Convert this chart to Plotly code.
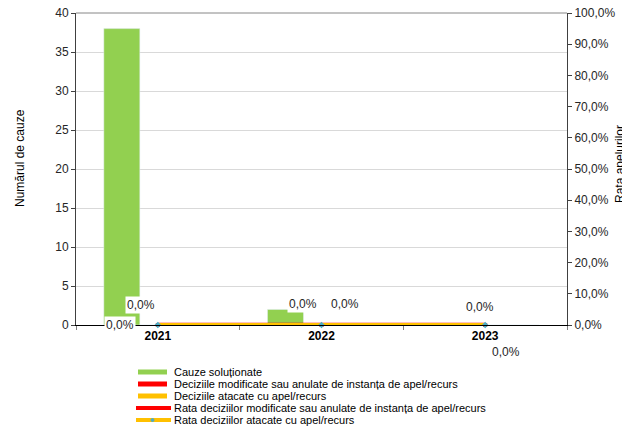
import plotly.graph_objects as go

# ---- data ----
years = ["2021", "2022", "2023"]
cauze_solutionate = [38, 2, 0]
decizii_modificate = [0, 0, 0]
decizii_atacate = [0, 0, 0]
rata_modificate = [0.0, 0.0, 0.0]
rata_atacate = [0.0, 0.0, 0.0]

names = [
    "Cauze soluționate",
    "Deciziile modificate sau anulate de instanța de apel/recurs",
    "Deciziile atacate cu apel/recurs",
    "Rata deciziilor modificate sau anulate de instanța de apel/recurs",
    "Rata deciziilor atacate cu apel/recurs",
]
left_title = "Numărul de cauze"
right_title = "Rata apelurilor"

GREEN = "#92d050"
RED = "#ff0000"
YELLOW = "#ffc000"
BLUE = "#4bacc6"
FONT = "Liberation Sans, Arial, sans-serif"

# the page body adds an 8px margin; lay out in page pixels minus that offset
OFF = 8
W, H = 630, 430
PL, PR, PT, PB = 76, 567, 13, 325          # plot edges in page pixels
ML, MT = PL - OFF, PT - OFF
MR, MB = W - (PR - OFF), H - (PB - OFF)
PW, PH = PR - PL, PB - PT


def px_x(p):
    return (p - PL) / PW


def px_y(p):
    return (PB - p) / PH


fig = go.Figure()
fig.add_trace(go.Bar(x=years, y=cauze_solutionate, name=names[0], marker_color=GREEN, showlegend=False))
fig.add_trace(go.Bar(x=years, y=decizii_modificate, name=names[1], marker_color=RED, showlegend=False))
fig.add_trace(go.Bar(x=years, y=decizii_atacate, name=names[2], marker_color=YELLOW, showlegend=False))
fig.add_trace(go.Scatter(x=years, y=rata_modificate, name=names[3], yaxis="y2", mode="lines+markers",
                         line=dict(color=RED, width=4.5),
                         marker=dict(symbol="square", size=4, color=RED), showlegend=False, cliponaxis=False))
fig.add_trace(go.Scatter(x=years, y=rata_atacate, name=names[4], yaxis="y2", mode="lines+markers",
                         line=dict(color=YELLOW, width=4),
                         marker=dict(symbol="diamond", size=5, color=BLUE), showlegend=False, cliponaxis=False))

# data labels (white-boxed, as in the original)
label_offsets_mod = [(-38, 0), (-19, 21), (-5, 18)]
label_offsets_at = [(-17, 20), (23, 21), (21, -27)]
for series, offs in ((rata_modificate, label_offsets_mod), (rata_atacate, label_offsets_at)):
    for idx, (v, (dx, dy)) in enumerate(zip(series, offs)):
        fig.add_annotation(x=idx, y=v, xref="x", yref="y2", text=f"{v*100:.1f}%".replace(".", ","),
                           showarrow=False, xshift=dx, yshift=dy, bgcolor="white",
                           font=dict(family=FONT, size=12, color="#262626"), borderpad=1)

# custom legend (compact rows as in the original)
legend_colors = [GREEN, RED, YELLOW, RED, YELLOW]
marker_colors = [None, None, None, RED, BLUE]
for i, (nm, col, mc) in enumerate(zip(names, legend_colors, marker_colors)):
    yy = 372 + 12 * i
    if mc is None:
        fig.add_shape(type="line", xref="paper", yref="paper", x0=px_x(138), x1=px_x(167),
                      y0=px_y(yy), y1=px_y(yy), line=dict(color=col, width=5))
    else:
        fig.add_shape(type="line", xref="paper", yref="paper", x0=px_x(136), x1=px_x(171),
                      y0=px_y(yy), y1=px_y(yy), line=dict(color=col, width=4))
        fig.add_shape(type="circle", xref="paper", yref="paper", x0=px_x(151), x1=px_x(154),
                      y0=px_y(yy - 1.5), y1=px_y(yy + 1.5), line=dict(color=mc, width=1), fillcolor=mc)
    fig.add_annotation(xref="paper", yref="paper", x=px_x(172), y=px_y(yy), text=nm, showarrow=False,
                       xanchor="left", yanchor="middle", font=dict(family=FONT, size=11, color="#000000"))

# axis titles
fig.add_annotation(xref="paper", yref="paper", x=px_x(20), y=px_y(158), text=left_title, textangle=-90,
                   showarrow=False, xanchor="center", yanchor="middle",
                   font=dict(family=FONT, size=12, color="#000000"))
fig.add_annotation(xref="paper", yref="paper", x=px_x(620), y=px_y(164), text=right_title, textangle=-90,
                   showarrow=False, xanchor="center", yanchor="middle",
                   font=dict(family=FONT, size=12, color="#000000"))

# top border line
fig.add_shape(type="line", xref="paper", yref="paper", x0=0, x1=1, y0=1, y1=1,
              line=dict(color="#868686", width=1))

fig.update_layout(
    width=W, height=H,
    margin=dict(l=ML, r=MR, t=MT, b=MB, autoexpand=False),
    paper_bgcolor="white", plot_bgcolor="white",
    barmode="group", bargap=0.34, bargroupgap=0,
    separators=",.",
    font=dict(family=FONT, size=12, color="#000000"),
    showlegend=False,
    xaxis=dict(type="category", categoryorder="array", categoryarray=years,
               range=[-0.5, len(years) - 0.5], autorange=False,
               showline=True, linecolor="#000000", linewidth=1,
               ticks="outside", tickson="boundaries", ticklen=4, tickcolor="#808080",
               tickfont=dict(family=FONT, size=12, color="#000000", weight="bold"),
               tickangle=0, showgrid=False, zeroline=False),
    yaxis=dict(range=[0, 40], dtick=5, showgrid=True, gridcolor="#d9d9d9", gridwidth=1,
               showline=True, linecolor="#404040", linewidth=1, ticks="outside", ticklen=4,
               tickcolor="#404040", zeroline=False, ticklabeloverflow="allow",
               tickfont=dict(family=FONT, size=12, color="#262626")),
    yaxis2=dict(range=[0, 1], dtick=0.1, tickformat=".1%", overlaying="y", side="right",
                showgrid=False, showline=True, linecolor="#404040", linewidth=1,
                ticks="outside", ticklen=4, tickcolor="#404040", zeroline=False,
                ticklabeloverflow="allow",
                tickfont=dict(family=FONT, size=12, color="#262626")),
)

fig.write_html("out.html")
